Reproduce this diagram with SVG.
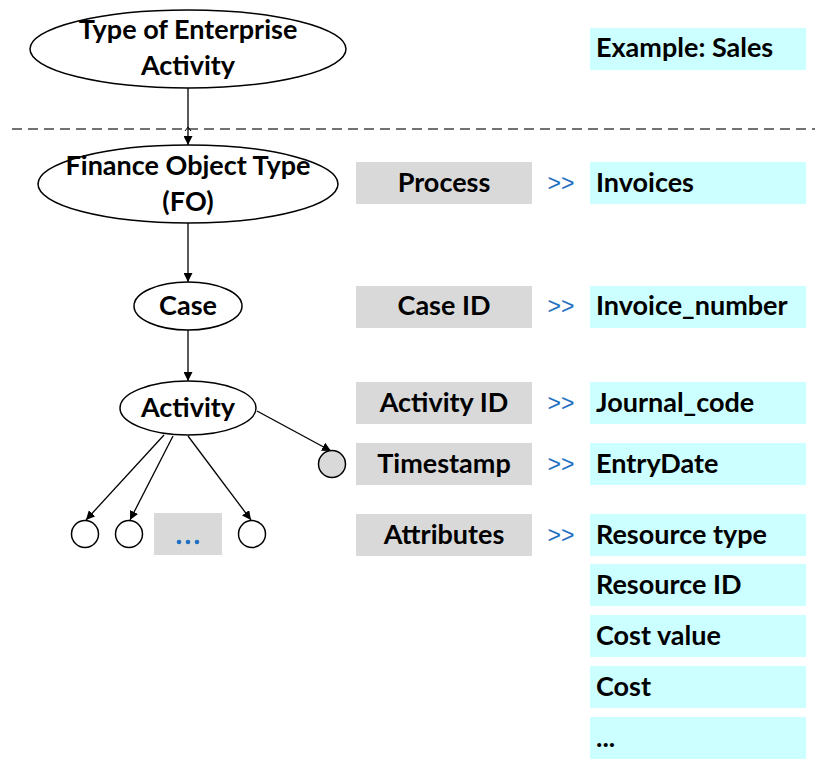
<svg xmlns="http://www.w3.org/2000/svg" width="815" height="765" viewBox="0 0 815 765">
  <defs>
    <marker id="arrow" viewBox="0 0 10 10" refX="10" refY="5" markerWidth="9" markerHeight="9" markerUnits="userSpaceOnUse" orient="auto">
      <path d="M0,0 L10,5 L0,10 z" fill="#000"/>
    </marker>
    <style>
      .node { fill: #fff; stroke: #000; stroke-width: 1.5; }
      .leaf { fill: #fff; stroke: #000; stroke-width: 1.5; }
      .leaf-grey { fill: #d9d9d9; stroke: #000; stroke-width: 1.5; }
      .label { font-family: Lato, "Open Sans", "Liberation Sans", sans-serif; font-weight: bold; font-size: 27px; fill: #000; }
      .mid { text-anchor: middle; }
      .key { fill: #d9d9d9; }
      .val { fill: #ccffff; }
      .map { font-family: "Liberation Sans", Arial, sans-serif; font-size: 23px; fill: #1f70c1; text-anchor: middle; }
      .edge { stroke: #000; stroke-width: 1.3; fill: none; marker-end: url(#arrow); }
      .divider { stroke: #444; stroke-width: 1.5; stroke-dasharray: 10 6; }
    </style>
  </defs>

  <rect width="815" height="765" fill="#fff"/>

  <!-- divider between enterprise level and finance object level -->
  <line class="divider" x1="12" y1="129" x2="815" y2="129"/>

  <!-- connectors -->
  <g id="connectors">
    <line class="edge" x1="188" y1="88" x2="188" y2="145"/>
    <path d="M185,131 L188,127 L191,131" stroke="#000" stroke-width="1" fill="none"/>
    <line class="edge" x1="188" y1="223" x2="188" y2="282"/>
    <line class="edge" x1="188" y1="330" x2="188" y2="381"/>
    <line class="edge" x1="164" y1="435" x2="86" y2="520"/>
    <line class="edge" x1="173" y1="436" x2="130" y2="520"/>
    <line class="edge" x1="188" y1="436" x2="251" y2="520"/>
    <line class="edge" x1="257" y1="411" x2="331" y2="451"/>
  </g>

  <!-- hierarchy nodes -->
  <g id="enterprise-activity">
    <ellipse class="node" cx="188" cy="49" rx="158" ry="39"/>
    <text class="label mid" x="188" y="39">Type of Enterprise</text>
    <text class="label mid" x="188" y="75">Activity</text>
  </g>
  <g id="finance-object">
    <ellipse class="node" cx="188" cy="184" rx="150" ry="39"/>
    <text class="label mid" x="188" y="175">Finance Object Type</text>
    <text class="label mid" x="188" y="211">(FO)</text>
  </g>
  <g id="case">
    <ellipse class="node" cx="188" cy="306" rx="54" ry="24"/>
    <text class="label mid" x="188" y="315">Case</text>
  </g>
  <g id="activity">
    <ellipse class="node" cx="188" cy="408" rx="68" ry="27"/>
    <text class="label mid" x="188" y="417">Activity</text>
  </g>
  <g id="timestamp-leaf">
    <circle class="leaf-grey" cx="332" cy="464" r="13.5"/>
  </g>
  <g id="attr-leaf-1">
    <circle class="leaf" cx="85" cy="534" r="13.5"/>
  </g>
  <g id="attr-leaf-2">
    <circle class="leaf" cx="129" cy="534" r="13.5"/>
  </g>
  <g id="attr-more">
    <rect class="key" x="154" y="513" width="68" height="42"/>
    <circle cx="179" cy="542" r="2.3" fill="#1f70c1"/>
    <circle cx="188" cy="542" r="2.3" fill="#1f70c1"/>
    <circle cx="197" cy="542" r="2.3" fill="#1f70c1"/>
  </g>
  <g id="attr-leaf-n">
    <circle class="leaf" cx="252" cy="534" r="13.5"/>
  </g>

  <!-- example column -->
  <g id="example">
    <rect class="val" x="590" y="28" width="216" height="42"/>
    <text class="label" x="596" y="57">Example: Sales</text>
  </g>

  <g id="row-process">
    <rect class="key" x="356" y="162" width="176" height="42"/>
    <text class="label mid" x="444" y="192">Process</text>
    <text class="map" x="561" y="191">&gt;&gt;</text>
    <rect class="val" x="590" y="162" width="216" height="42"/>
    <text class="label" x="596" y="192">Invoices</text>
  </g>
  <g id="row-case">
    <rect class="key" x="356" y="286" width="176" height="42"/>
    <text class="label mid" x="444" y="315">Case ID</text>
    <text class="map" x="561" y="314">&gt;&gt;</text>
    <rect class="val" x="590" y="286" width="216" height="42"/>
    <text class="label" x="596" y="315">Invoice_number</text>
  </g>
  <g id="row-activity">
    <rect class="key" x="356" y="382" width="176" height="42"/>
    <text class="label mid" x="444" y="412">Activity ID</text>
    <text class="map" x="561" y="411">&gt;&gt;</text>
    <rect class="val" x="590" y="382" width="216" height="42"/>
    <text class="label" x="596" y="412">Journal_code</text>
  </g>
  <g id="row-timestamp">
    <rect class="key" x="356" y="443" width="176" height="42"/>
    <text class="label mid" x="444" y="473">Timestamp</text>
    <text class="map" x="561" y="472">&gt;&gt;</text>
    <rect class="val" x="590" y="443" width="216" height="42"/>
    <text class="label" x="596" y="473">EntryDate</text>
  </g>
  <g id="row-attributes">
    <rect class="key" x="356" y="514" width="176" height="42"/>
    <text class="label mid" x="444" y="544">Attributes</text>
    <text class="map" x="561" y="543">&gt;&gt;</text>
    <rect class="val" x="590" y="514" width="216" height="42"/>
    <text class="label" x="596" y="544">Resource type</text>
  </g>
  <g id="attr-resource-id">
    <rect class="val" x="590" y="564" width="216" height="42"/>
    <text class="label" x="596" y="594">Resource ID</text>
  </g>
  <g id="attr-cost-value">
    <rect class="val" x="590" y="615" width="216" height="42"/>
    <text class="label" x="596" y="645">Cost value</text>
  </g>
  <g id="attr-cost">
    <rect class="val" x="590" y="666" width="216" height="42"/>
    <text class="label" x="596" y="696">Cost</text>
  </g>
  <g id="attr-more-values">
    <rect class="val" x="590" y="717" width="216" height="42"/>
    <text class="label" x="596" y="747">...</text>
  </g>
</svg>
